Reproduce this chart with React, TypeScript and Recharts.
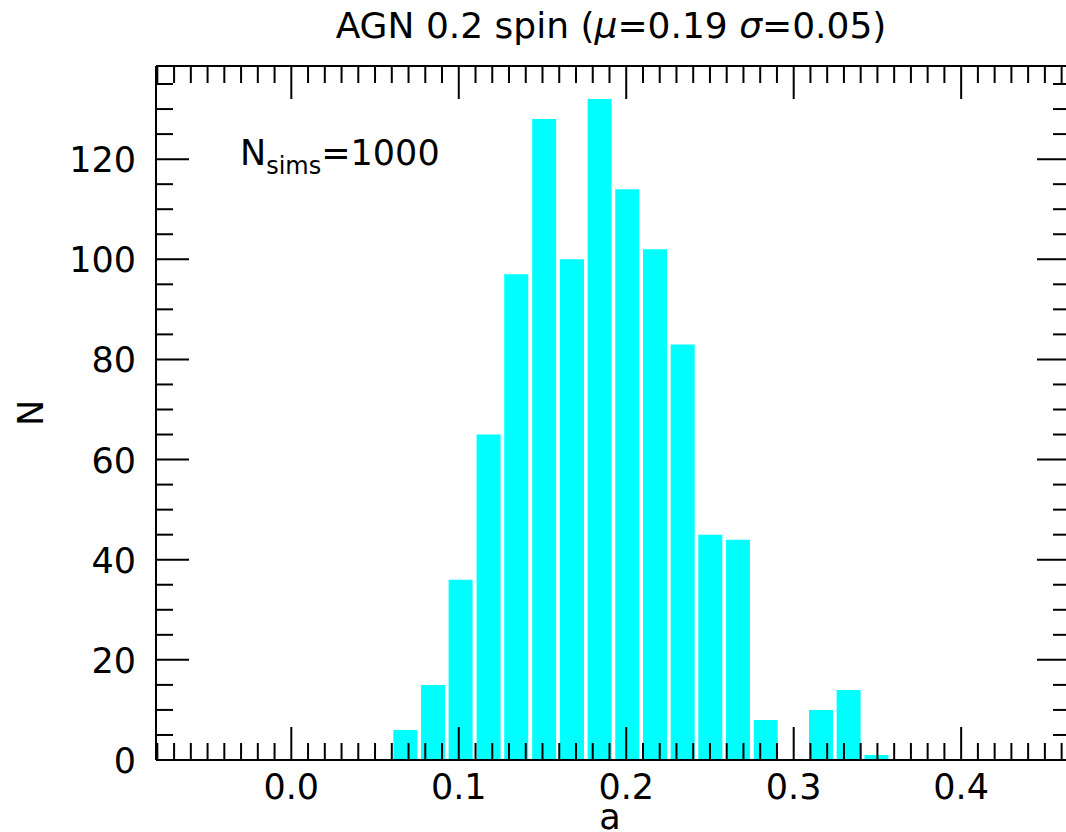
import { Bar, BarChart, XAxis, YAxis } from 'recharts'

// bin centres of the spin histogram (a) and counts per bin
const binCentres = [
  0.068, 0.0845, 0.101, 0.1177, 0.1342, 0.1509, 0.1675, 0.184, 0.2005, 0.2171, 0.2336, 0.2501, 0.2666,
  0.2832, 0.2997, 0.3162, 0.3327, 0.3493,
]
const binCounts = [6, 15, 36, 65, 97, 128, 100, 132, 114, 102, 83, 45, 44, 8, 0, 10, 14, 1]

const xMajorTicks = [0, 0.1, 0.2, 0.3, 0.4]
const yMajorTicks = [0, 20, 40, 60, 80, 100, 120]

const X_DOMAIN: [number, number] = [-0.0808, 0.465]
const Y_DOMAIN: [number, number] = [0, 138.6]

// minor ticks every 0.01 in a and every 5 in N
const xTicks: number[] = []
for (let i = -8; i <= 46; i++) xTicks.push(i / 100)
const yTicks: number[] = []
for (let i = 0; i <= 135; i += 5) yTicks.push(i)

const data = binCentres.map((a, i) => ({ a, n: binCounts[i] }))

// the frame runs a little past the right edge of the page, as in the original
const W = 1065
const H = 824
const MARGIN = { top: 57, right: 2, left: 0, bottom: 0 }
const FONT = 'DejaVu Sans, sans-serif'
const MAJOR = 33
const MINOR = 17

const isMajorX = (v: number) => xMajorTicks.some((t) => Math.abs(t - v) < 1e-6)
const isMajorY = (v: number) => yMajorTicks.includes(v)

function BottomTick({ x, y, payload }: any) {
  const major = isMajorX(payload.value)
  return (
    <g>
      <line x1={x} x2={x} y1={y} y2={y - (major ? MAJOR : MINOR)} stroke="#000" strokeWidth={2} />
      {major && (
        <text x={x} y={y + 39} textAnchor="middle" fontSize={35} fontFamily={FONT} fill="#000">
          {payload.value.toFixed(1)}
        </text>
      )}
    </g>
  )
}

function TopTick({ x, y, payload }: any) {
  const major = isMajorX(payload.value)
  return <line x1={x} x2={x} y1={y} y2={y + (major ? MAJOR : MINOR)} stroke="#000" strokeWidth={2} />
}

function LeftTick({ x, y, payload }: any) {
  const major = isMajorY(payload.value)
  return (
    <g>
      <line x1={x} x2={x + (major ? MAJOR : MINOR)} y1={y} y2={y} stroke="#000" strokeWidth={2} />
      {major && (
        <text x={x - 20} y={y + 13} textAnchor="end" fontSize={35} fontFamily={FONT} fill="#000">
          {payload.value}
        </text>
      )}
    </g>
  )
}

function RightTick({ x, y, payload }: any) {
  const major = isMajorY(payload.value)
  return <line x1={x} x2={x - (major ? MAJOR : MINOR)} y1={y} y2={y} stroke="#000" strokeWidth={2} />
}

// same four axes in both layers; only the top layer draws the frame and ticks
function axes(show: boolean) {
  const line = show ? { stroke: '#000', strokeWidth: 2 } : false
  const common = { allowDataOverflow: true, interval: 0 as const, tickSize: 0, tickMargin: 0, tickLine: false }
  return [
    <XAxis
      key="xb"
      dataKey="a"
      type="number"
      domain={X_DOMAIN}
      ticks={xTicks}
      height={72}
      tick={show ? <BottomTick /> : false}
      axisLine={line}
      {...common}
    />,
    <XAxis
      key="xt"
      xAxisId="top"
      orientation="top"
      dataKey="a"
      type="number"
      domain={X_DOMAIN}
      ticks={xTicks}
      height={1}
      tick={show ? <TopTick /> : false}
      axisLine={line}
      {...common}
    />,
    <YAxis
      key="yl"
      type="number"
      domain={Y_DOMAIN}
      ticks={yTicks}
      width={148}
      tick={show ? <LeftTick /> : false}
      axisLine={line}
      {...common}
    />,
    <YAxis
      key="yr"
      yAxisId="right"
      orientation="right"
      type="number"
      domain={Y_DOMAIN}
      ticks={yTicks}
      width={1}
      tick={show ? <RightTick /> : false}
      axisLine={line}
      {...common}
    />,
  ]
}

export default function App() {
  // taken out of the flow so the page never grows a scrollbar
  return (
    <div style={{ position: 'absolute', left: 8, top: 8, width: 1058, height: H, overflow: 'hidden' }}>
      <BarChart width={W} height={H} data={data} margin={MARGIN}>
        <Bar dataKey="n" fill="#00ffff" barSize={24} isAnimationActive={false} />
        {axes(false)}
      </BarChart>
      <div style={{ position: 'absolute', left: 0, top: 0 }}>
        <BarChart width={W} height={H} data={data} margin={MARGIN}>
          {axes(true)}
        </BarChart>
      </div>
      <svg
        width={1058}
        height={H}
        style={{ position: 'absolute', left: 0, top: 0, pointerEvents: 'none' }}
        fontFamily={FONT}
      >
        <text x={603} y={30} textAnchor="middle" fontSize={36} fill="#000">
          AGN 0.2 spin (<tspan fontStyle="italic">μ</tspan>=0.19 <tspan fontStyle="italic">σ</tspan>=0.05)
        </text>
        <text x={602} y={821} textAnchor="middle" fontSize={35} fill="#000">
          a
        </text>
        <text transform="translate(35,405) rotate(-90)" textAnchor="middle" fontSize={35} fill="#000">
          N
        </text>
        <text x={232} y={157} fontSize={35} fill="#000">
          N
          <tspan fontSize={24} dy={9}>
            sims
          </tspan>
          <tspan dy={-9}>=1000</tspan>
        </text>
      </svg>
    </div>
  )
}
